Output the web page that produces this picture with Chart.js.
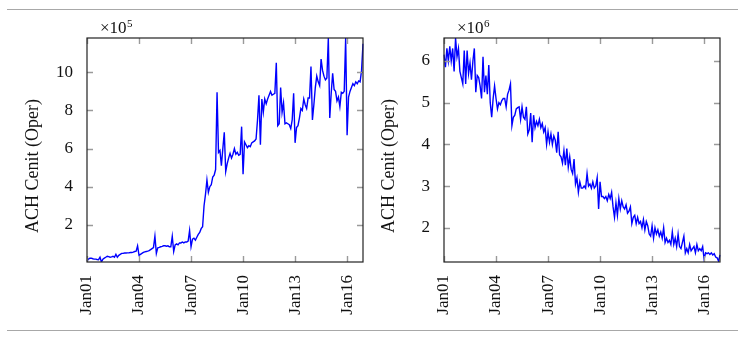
<!DOCTYPE html>
<html>
<head>
<meta charset="utf-8">
<script src="https://cdn.jsdelivr.net/npm/chart.js@4"></script>
<style>
  html, body { margin: 0; padding: 0; background: #fff; }
  #wrap { position: relative; width: 750px; height: 339px; }
  .rule { position: absolute; left: 7px; width: 731px; height: 0; border-top: 1px solid #a8a8a8; }
  .panel { position: absolute; top: 0; width: 375px; height: 339px; }
</style>
</head>
<body>
<div id="wrap">
  <div class="rule" style="top:9px"></div>
  <div class="rule" style="top:330px"></div>
  <div class="panel" style="left:0"><canvas id="chartA"></canvas></div>
  <div class="panel" style="left:375px"><canvas id="chartB"></canvas></div>
</div>
<script>
// monthly, Jan 2001 .. Dec 2016
const years = ['01','02','03','04','05','06','07','08','09','10','11','12','13','14','15','16'];
const months = ['Jan','Feb','Mar','Apr','May','Jun','Jul','Aug','Sep','Oct','Nov','Dec'];
const labels = years.flatMap(y => months.map(m => m + y));

// left panel, x10^5
const seriesA = [
  0.1,0.2,0.25,0.25,0.22,0.2,0.2,0.18,0.17,0.3,0.05,0.2,
  0.25,0.3,0.35,0.33,0.3,0.32,0.35,0.3,0.45,0.3,0.4,0.45,
  0.5,0.5,0.52,0.52,0.53,0.53,0.55,0.55,0.57,0.6,0.62,0.9,
  0.4,0.45,0.5,0.55,0.58,0.6,0.62,0.65,0.7,0.75,0.8,1.4,
  0.5,0.8,0.82,0.85,0.87,0.9,0.9,0.88,0.9,0.85,0.85,1.4,
  0.6,0.95,1.0,0.95,1.05,1.05,1.1,1.05,1.1,1.1,1.15,1.7,
  0.85,1.25,1.3,1.2,1.35,1.5,1.6,1.8,1.9,3.0,3.6,4.35,
  3.7,4.0,4.1,4.5,4.6,4.9,8.95,5.8,5.9,5.1,6.0,6.85,
  4.8,5.2,5.5,5.75,5.5,5.7,6.0,5.7,5.8,5.65,5.7,7.15,
  4.65,6.35,6.2,6.05,6.15,6.1,6.3,6.35,6.4,6.5,7.5,8.8,
  6.2,8.6,7.9,8.6,8.35,8.6,8.8,9.0,8.8,8.85,8.9,10.5,
  7.2,7.3,9.2,7.9,8.4,7.3,7.35,7.3,7.25,7.05,7.5,8.9,
  6.3,7.1,7.2,7.6,8.1,8.0,8.6,8.3,8.1,8.65,8.65,10.3,
  7.5,8.3,9.2,9.8,9.5,9.3,10.7,10.1,9.8,9.6,9.7,11.8,
  7.6,8.9,9.95,9.1,9.0,8.5,8.7,8.2,8.95,8.9,9.0,11.8,
  6.7,8.7,9.0,9.2,9.4,9.3,9.5,9.4,9.55,9.5,10.1,11.5
];

// right panel, x10^6
const seriesB = [
  6.15,5.85,6.3,6.0,6.35,6.0,6.3,5.75,6.55,6.1,6.3,5.75,
  5.6,5.45,6.25,5.45,6.25,5.7,5.95,5.55,6.0,6.3,5.25,5.65,
  5.6,5.4,5.1,6.1,5.25,5.65,5.2,5.9,5.0,4.65,5.1,5.4,
  5.1,4.85,5.0,4.95,5.05,5.1,5.1,4.9,5.2,5.3,5.45,4.45,
  4.65,4.7,4.85,4.88,4.9,4.6,4.9,4.65,4.6,4.9,4.25,4.35,
  4.75,4.05,4.7,4.4,4.55,4.45,4.6,4.4,4.5,4.3,4.4,4.0,
  4.3,4.05,4.25,4.0,4.2,4.1,3.8,4.3,3.75,3.7,3.55,3.85,
  3.5,3.9,3.45,3.7,3.4,3.3,3.65,3.05,3.2,2.85,3.1,2.95,
  2.95,3.0,2.95,3.3,3.0,3.05,2.95,3.1,2.95,3.0,3.2,2.45,
  3.1,2.75,2.75,2.7,2.75,2.65,2.8,2.7,2.85,2.5,2.25,2.6,
  2.3,2.7,2.45,2.65,2.5,2.45,2.55,2.35,2.4,2.5,2.1,2.25,
  2.3,2.1,2.25,2.1,2.15,2.0,2.2,1.95,2.15,2.05,1.85,1.8,
  2.05,1.75,2.0,1.85,1.95,1.8,1.9,1.75,2.0,1.65,1.75,1.65,
  1.7,1.6,1.9,1.6,1.75,1.55,1.85,1.55,1.5,1.65,1.8,1.4,
  1.5,1.4,1.6,1.45,1.5,1.55,1.4,1.6,1.45,1.5,1.45,1.55,
  1.25,1.4,1.38,1.4,1.36,1.4,1.35,1.38,1.3,1.28,1.2,1.35
];

const xTickLabels = ['Jan01','Jan04','Jan07','Jan10','Jan13','Jan16'];
const yTicksA = [2, 4, 6, 8, 10];
const yTicksB = [2, 3, 4, 5, 6];
const yTitle = 'ACH Cenit (Oper)';

const FONT = '"Liberation Serif", "Times New Roman", serif';

// pgfplots-like frame, inward ticks, y label and the x10^n multiplier
const framePlugin = {
  id: 'frame',
  afterDraw(chart, args, opts) {
    const ctx = chart.ctx;
    const a = chart.chartArea;
    const xs = chart.scales.x, ys = chart.scales.y;
    const len = 6;
    ctx.save();
    ctx.strokeStyle = '#9a9a9a';
    ctx.lineWidth = 1.4;
    ctx.beginPath();
    xs.ticks.forEach(t => {
      const px = Math.round(xs.getPixelForValue(t.value)) + 0.5;
      ctx.moveTo(px, a.bottom); ctx.lineTo(px, a.bottom - len);
      ctx.moveTo(px, a.top); ctx.lineTo(px, a.top + len);
    });
    ys.ticks.forEach(t => {
      const py = Math.round(ys.getPixelForValue(t.value)) + 0.5;
      ctx.moveTo(a.left, py); ctx.lineTo(a.left + len, py);
      ctx.moveTo(a.right, py); ctx.lineTo(a.right - len, py);
    });
    ctx.stroke();

    ctx.strokeStyle = '#222';
    ctx.lineWidth = 1.2;
    ctx.strokeRect(a.left, a.top, a.right - a.left, a.bottom - a.top);

    ctx.fillStyle = '#111';
    ctx.font = '17px ' + FONT;
    ctx.textAlign = 'left';
    ctx.textBaseline = 'alphabetic';
    const mx = a.left + 13;
    ctx.fillText('×10', mx, 33);
    const w = ctx.measureText('×10').width;
    ctx.font = '11px ' + FONT;
    ctx.fillText(opts.exp, mx + w + 0.5, 27);

    ctx.font = '18px ' + FONT;
    ctx.translate(opts.titleX, 166);
    ctx.rotate(-Math.PI / 2);
    ctx.textAlign = 'center';
    ctx.textBaseline = 'middle';
    ctx.fillText(yTitle, 0, 0);
    ctx.restore();
  }
};

function makeChart(id, data, yMin, yMax, yTicks, yWidth, padRight, exp, titleX) {
  return new Chart(document.getElementById(id), {
    type: 'line',
    data: {
      labels: labels,
      datasets: [{
        data: data,
        borderColor: '#0000ff',
        borderWidth: 1.4,
        pointRadius: 0,
        tension: 0,
        fill: false
      }]
    },
    options: {
      responsive: false,
      animation: false,
      events: [],
      layout: { padding: { left: 0, top: 38, right: padRight, bottom: 0 } },
      plugins: {
        legend: { display: false },
        tooltip: { enabled: false },
        frame: { exp: exp, titleX: titleX }
      },
      scales: {
        x: {
          type: 'category',
          offset: false,
          grid: { display: false },
          border: { display: false },
          afterBuildTicks: s => {
            s.ticks = s.ticks.filter(t => xTickLabels.includes(labels[t.value]));
          },
          afterFit: s => { s.height = 77; },
          ticks: {
            autoSkip: false,
            minRotation: 90,
            maxRotation: 90,
            padding: 5,
            color: '#111',
            font: { family: FONT, size: 17 },
            callback: function (v) { return labels[v]; }
          }
        },
        y: {
          min: yMin,
          max: yMax,
          grid: { display: false },
          border: { display: false },
          afterBuildTicks: s => { s.ticks = yTicks.map(v => ({ value: v })); },
          afterFit: s => { s.width = yWidth; },
          ticks: {
            padding: 6,
            color: '#111',
            font: { family: FONT, size: 17 },
            callback: v => String(v)
          }
        }
      }
    },
    plugins: [framePlugin]
  });
}

for (const id of ['chartA', 'chartB']) {
  const c = document.getElementById(id);
  c.width = 375; c.height = 339;
}

makeChart('chartA', seriesA, 0.05, 11.8, yTicksA, 87, 12, '5', 33);
makeChart('chartB', seriesB, 1.18, 6.55, yTicksB, 69, 30, '6', 14);
</script>
</body>
</html>
